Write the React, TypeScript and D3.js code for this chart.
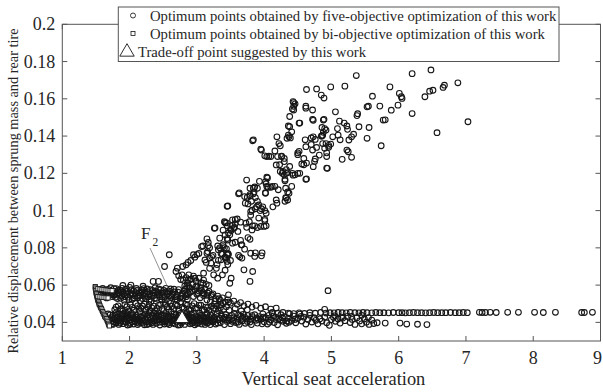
import React from "react";
import * as d3 from "d3";

type P = [number, number];

const xTicks = [1, 2, 3, 4, 5, 6, 7, 8, 9];
const yTicks = [0.04, 0.06, 0.08, 0.1, 0.12, 0.14, 0.16, 0.18, 0.2];
const xLabel = "Vertical seat acceleration";
const yLabel = "Relative displacement between sprung mass and rear tire";
const legendLabels = [
  "Optimum points obtained by five-objective optimization of this work",
  "Optimum points obtained by bi-objective optimization of this work",
  "Trade-off point suggested by this work",
];

// five-objective optimum points: rising upper branch
const upperBranch: P[] = [
  [3.83,0.1375],[6.48,0.1755],[6.20,0.1735],[5.37,0.1725],[5.87,0.1664],[6.01,0.1629],[6.04,0.1611],[6.05,0.1602],[5.99,0.1566],[5.89,0.1539],[6.20,0.1521],[6.39,0.1611],[6.46,0.1641],[6.51,0.1646],[6.66,0.1661],[6.68,0.1673],[6.88,0.1686],[7.03,0.1477],[6.57,0.1418],[5.20,0.1668],[4.99,0.1664],[4.63,0.1650],[5.06,0.1530],[4.44,0.1580],[4.44,0.1560],[4.44,0.1540],[4.62,0.1560],[4.62,0.1550],[4.72,0.1540],[4.72,0.1490],[4.73,0.1485],[4.89,0.1490],[5.12,0.1480],[5.19,0.1470],[5.09,0.1440],[5.23,0.1454],[5.24,0.1436],[5.41,0.1450],[5.56,0.1446],[5.39,0.1520],[5.38,0.1510],[5.53,0.1557],[5.55,0.1560],[5.61,0.1614],[5.72,0.1561],[5.77,0.1486],[5.80,0.1487],[5.74,0.1348],[5.53,0.1388],[5.30,0.1396],[5.33,0.1410],[5.26,0.1379],[5.23,0.1325],[5.25,0.1316],[5.30,0.1286],[5.16,0.1275],[5.13,0.1380],[5.10,0.1405],[5.02,0.1396],[4.96,0.1350],[4.96,0.1340],[4.99,0.1357],[4.90,0.1334],[4.92,0.1360],[4.86,0.1400],[4.87,0.1405],[4.86,0.1446],[4.92,0.1432],[4.88,0.1486],[4.73,0.1396],[4.76,0.1382],[4.82,0.1298],[4.78,0.1339],[4.72,0.1325],[4.76,0.1277],[4.73,0.1236],[4.94,0.1227],[4.59,0.1280],[4.56,0.1250],[4.50,0.1200],[4.43,0.1190],[4.62,0.1343],[4.61,0.1380],[4.52,0.1470],[4.38,0.1450],[4.36,0.1405],[4.39,0.1390],[4.41,0.1423],[4.19,0.1396],[4.22,0.1360],[4.24,0.1348],[4.34,0.1388],[4.20,0.1290],[4.26,0.1292],[4.30,0.1280],[4.10,0.1290],[4.07,0.1292],[4.04,0.1290],[3.96,0.1325],[4.18,0.1245],[4.24,0.1210],[4.27,0.1200],[4.33,0.1200],[4.35,0.1204],[4.31,0.1160],[4.31,0.1168],[4.53,0.1200],[4.62,0.1168],[4.32,0.1120],[4.37,0.1093],[4.35,0.1057],[4.18,0.1057],[4.02,0.1093],[4.04,0.1130],[4.12,0.1130],[3.90,0.1120],[3.84,0.1120],[3.85,0.1100],[3.79,0.1120],[3.74,0.1164],[4.04,0.1180],[4.02,0.1155],[3.62,0.1090],[3.71,0.1075],[3.75,0.1072],[3.79,0.1078],
  [4.78,0.1653],[4.85,0.1620],[4.89,0.1604],[4.43,0.1585],[4.46,0.1573],[4.42,0.1546],[4.38,0.1505],[4.53,0.1470],[4.36,0.1454],[4.37,0.1396],[3.84,0.1380],[3.95,0.1330],[4.16,0.1320],[4.50,0.1310],[4.70,0.1355],[4.85,0.1400],[4.88,0.1420],[4.90,0.1440],[4.70,0.1390],[4.87,0.1360],[4.93,0.1310],
  [4.01,0.1294],[4.26,0.1290],[4.50,0.1300],[4.52,0.1318],[4.63,0.1255],[4.59,0.1246],[4.75,0.1264],[4.93,0.1290],[4.93,0.1228],[4.23,0.1246],[4.33,0.1220],[4.28,0.1210],[4.30,0.1192],[4.38,0.1237],[4.42,0.1200],[4.46,0.1192],[4.41,0.1130],[4.35,0.1100],[4.33,0.1067],[4.30,0.1263],[4.63,0.1170],[4.05,0.1175],[4.03,0.1144],[4.06,0.1125],[4.10,0.1125],[4.16,0.1130],[4.21,0.1112],[4.32,0.1070],[3.93,0.1157],[3.86,0.1127],[3.63,0.1095],[3.79,0.1086],[3.81,0.1050],[4.02,0.1096],[3.72,0.1040],[3.84,0.1090],[3.87,0.1070],[3.90,0.1050],[3.92,0.1030],[3.96,0.1010],[3.94,0.1000],[3.87,0.1010],[3.82,0.1002],[3.80,0.0975],[4.01,0.0953],[3.95,0.0915],[4.00,0.0915],[4.03,0.0918],[3.83,0.0918],[3.90,0.0909],[3.73,0.0932],
];

// five-objective: lower part of the branch (x 2.4 - 4.3, y 0.055 - 0.105)
const branchBase: P[] = [
  [3.45,0.1023],[3.27,0.0907],[3.44,0.0934],[3.41,0.0940],[3.53,0.0950],[3.57,0.0952],[3.60,0.0955],[3.53,0.0920],[3.56,0.0910],[3.50,0.0900],[3.51,0.0893],[3.47,0.0880],[3.49,0.0870],[3.39,0.0895],[3.34,0.0852],[3.31,0.0810],[3.34,0.0800],[3.15,0.0848],[3.09,0.0810],[3.17,0.0812],[3.19,0.0800],[3.39,0.0817],[3.41,0.0800],[3.44,0.0795],[3.46,0.0770],[3.47,0.0765],[3.36,0.0770],[3.38,0.0766],[3.42,0.0750],[3.44,0.0745],[3.24,0.0760],[3.22,0.0753],[3.16,0.0780],[3.03,0.0770],[3.00,0.0764],[2.97,0.0750],[3.32,0.0733],[3.62,0.0760],[3.64,0.0752],[3.67,0.0745],[3.67,0.0816],[3.87,0.0773],[3.97,0.0773],[3.12,0.0735],[3.14,0.0722],[2.87,0.0722],
  [3.46,0.1025],[3.76,0.1036],[3.80,0.0995],[3.98,0.1020],[4.01,0.1000],[3.89,0.1020],[4.03,0.0986],[4.13,0.1020],[4.19,0.1040],[4.31,0.1050],[3.92,0.0960],[4.01,0.0946],[3.86,0.0918],[3.82,0.0896],[3.74,0.0910],[3.78,0.0940],[3.65,0.0938],[3.57,0.0930],[3.55,0.0905],[3.45,0.0918],[3.42,0.0935],[3.26,0.0905],[3.42,0.0870],[3.45,0.0850],[3.46,0.0842],[3.53,0.0825],[3.57,0.0830],[3.65,0.0840],[3.66,0.0816],[3.76,0.0855],[3.79,0.0846],[3.61,0.0888],[3.71,0.0793],[3.80,0.0771],[3.86,0.0754],[3.96,0.0757],[3.70,0.0682],[3.83,0.0673],[3.79,0.0620],[3.51,0.0637],[3.49,0.0610],[3.47,0.0548],[3.45,0.0763],[3.42,0.0745],[3.45,0.0727],[3.50,0.0732],[3.46,0.0710],[3.36,0.0736],[3.39,0.0807],[3.32,0.0790],[3.30,0.0710],[3.29,0.0690],[3.42,0.0680],[3.38,0.0655],[3.31,0.0637],[3.21,0.0718],[3.19,0.0745],[3.15,0.0771],[3.17,0.0829],[3.07,0.0807],[3.19,0.0690],[3.10,0.0664],[3.25,0.0655],[2.95,0.0763],[2.91,0.0732],[2.97,0.0637],[2.90,0.0630],[3.09,0.0610],[2.78,0.0655],[2.71,0.0691],[2.69,0.0673],[2.79,0.0700],[2.59,0.0763],[2.52,0.0700],[2.43,0.0620],[2.84,0.0709],[2.87,0.0628],[2.73,0.0650],[2.76,0.0630],[2.85,0.0593],
];

// five-objective: junction of branch and bands
const junction: P[] = [
  [2.82,0.0595],[2.86,0.0612],[2.90,0.0583],[2.94,0.0604],[2.97,0.0576],[3.00,0.0596],[3.03,0.0568],[3.06,0.0587],[3.09,0.0559],[3.12,0.0578],[3.15,0.0545],[3.18,0.0566],[3.21,0.0538],[3.24,0.0553],[3.28,0.0527],[3.31,0.0541],[3.35,0.0518],[3.38,0.0532],[3.42,0.0509],[3.46,0.0521],[3.50,0.0503],[3.55,0.0514],[3.60,0.0497],[3.65,0.0506],[3.70,0.0489],[3.76,0.0498],[3.82,0.0482],[3.88,0.0491],[3.95,0.0476],[4.02,0.0484],[4.10,0.0471],[4.18,0.0477],
  [2.85,0.0548],[2.90,0.0562],[2.95,0.0539],[3.00,0.0551],[3.05,0.0532],[3.10,0.0544],[3.15,0.0521],[3.20,0.0509],[3.26,0.0498],[3.30,0.0488],[3.36,0.0495],[3.44,0.0484],[2.80,0.0626],[2.84,0.0640],[2.88,0.0655],[2.92,0.0633],[2.95,0.0648],[2.99,0.0621],[3.03,0.0637],[3.06,0.0612],[3.10,0.0627],[3.14,0.0604],[3.18,0.0598],
  [2.83,0.0578],[2.88,0.0592],[2.93,0.0571],[2.98,0.0589],[3.02,0.0556],[3.07,0.0571],[3.11,0.0553],[3.16,0.0558],[3.22,0.0547],[3.27,0.0513],[3.33,0.0527],[3.39,0.0503],[3.47,0.0509],
];

// five-objective: upper dense band (y 0.051 - 0.059)
const upperBand: P[] = [
  [1.56,0.0574],[1.58,0.0556],[1.60,0.0582],[1.62,0.0543],[1.64,0.0565],[1.66,0.0531],[1.68,0.0577],[1.70,0.0552],[1.72,0.0586],[1.74,0.0539],[1.76,0.0568],[1.78,0.0547],[1.80,0.0581],[1.82,0.0528],[1.84,0.0559],[1.86,0.0573],[1.88,0.0541],[1.90,0.0562],[1.92,0.0519],[1.94,0.0578],[1.96,0.0549],[1.98,0.0535],[2.00,0.0588],[2.02,0.0556],[2.04,0.0524],[2.06,0.0569],[2.08,0.0542],[2.10,0.0582],[2.12,0.0531],[2.14,0.0558],[2.16,0.0516],[2.18,0.0574],[2.20,0.0546],[2.22,0.0562],[2.24,0.0527],[2.26,0.0579],[2.28,0.0538],[2.30,0.0553],[2.32,0.0512],[2.34,0.0571],[2.36,0.0544],[2.38,0.0586],[2.40,0.0529],[2.42,0.0561],[2.44,0.0548],[2.46,0.0575],[2.48,0.0521],[2.50,0.0557],[2.52,0.0539],[2.54,0.0583],[2.56,0.0551],[2.58,0.0514],[2.60,0.0567],[2.62,0.0533],[2.64,0.0554],[2.66,0.0578],[2.68,0.0526],[2.70,0.0545],[2.72,0.0562],[2.75,0.0531],[2.78,0.0551],[2.81,0.0569],[2.84,0.0538],[2.87,0.0556],
  [1.65,0.0552],[1.75,0.0556],[1.85,0.0549],[1.95,0.0557],[2.05,0.0551],[2.15,0.0546],[2.25,0.0553],[2.35,0.0559],[2.45,0.0539],[2.55,0.0566],[2.02,0.0600],[1.90,0.0598],[2.20,0.0594],[2.35,0.0620],
  [1.57,0.0548],[1.61,0.0561],[1.63,0.0574],[1.67,0.0546],[1.69,0.0561],[1.73,0.0549],[1.77,0.0581],[1.79,0.0535],[1.81,0.0554],[1.83,0.0571],[1.87,0.0529],[1.89,0.0583],[1.91,0.0552],[1.93,0.0538],[1.97,0.0568],[1.99,0.0521],[2.01,0.0545],[2.03,0.0576],[2.07,0.0531],[2.09,0.0559],[2.11,0.0571],[2.13,0.0541],[2.17,0.0562],[2.19,0.0528],[2.21,0.0581],[2.23,0.0541],[2.27,0.0564],[2.29,0.0519],[2.31,0.0576],[2.33,0.0543],[2.37,0.0528],[2.39,0.0566],[2.41,0.0547],[2.43,0.0579],[2.47,0.0558],[2.49,0.0536],[2.51,0.0572],[2.53,0.0521],[2.57,0.0563],[2.59,0.0541],[2.61,0.0579],[2.63,0.0546],[2.67,0.0563],[2.69,0.0538],[2.71,0.0521],[2.73,0.0576],[2.77,0.0541],[2.79,0.0529],[2.83,0.0558],[2.86,0.0524],
];

// five-objective: between the two bands (y 0.045 - 0.051)
const middleBand: P[] = [
  [1.78,0.0468],[1.83,0.0489],[1.88,0.0473],[1.93,0.0495],[1.99,0.0462],[2.04,0.0481],[2.09,0.0502],[2.14,0.0471],[2.19,0.0488],[2.24,0.0465],[2.29,0.0497],[2.33,0.0478],[2.38,0.0463],[2.43,0.0491],[2.48,0.0474],[2.53,0.0501],[2.58,0.0469],[2.63,0.0486],[2.68,0.0494],[2.73,0.0468],[2.78,0.0482],[2.83,0.0497],[2.88,0.0471],[2.93,0.0489],[2.98,0.0476],[3.03,0.0493],[3.08,0.0468],[3.13,0.0482],[3.18,0.0464],[3.25,0.0476],[3.32,0.0462],[3.40,0.0471],[3.48,0.0465],[3.57,0.0474],[3.66,0.0461],[3.75,0.0468],[1.71,0.0440],[1.86,0.0470],[1.64,0.0432],[1.68,0.0445],
  [1.80,0.0482],[1.90,0.0461],[1.96,0.0484],[2.01,0.0497],[2.06,0.0465],[2.12,0.0489],[2.17,0.0476],[2.22,0.0498],[2.27,0.0481],[2.31,0.0463],[2.36,0.0487],[2.41,0.0475],[2.46,0.0496],[2.51,0.0463],[2.56,0.0484],[2.61,0.0502],[2.66,0.0473],[2.71,0.0489],[2.76,0.0508],[2.81,0.0476],[2.86,0.0492],[2.91,0.0465],[2.96,0.0501],[3.01,0.0478],[3.06,0.0492],[3.11,0.0467],[3.16,0.0479],[3.22,0.0487],[3.28,0.0472],[3.35,0.0479],
];

// five-objective: lower dense band (y 0.038 - 0.046)
const lowerBand: P[] = [
  [1.72,0.0405],[1.74,0.0392],[1.75,0.0438],[1.78,0.0415],[1.80,0.0398],[1.82,0.0427],[1.84,0.0389],[1.85,0.0446],[1.87,0.0408],[1.89,0.0431],[1.90,0.0393],[1.92,0.0418],[1.94,0.0452],[1.95,0.0401],[1.97,0.0386],[1.98,0.0437],[2.00,0.0412],[2.01,0.0395],[2.03,0.0448],[2.05,0.0425],[2.06,0.0391],[2.08,0.0406],[2.10,0.0439],[2.12,0.0388],[2.13,0.0417],[2.15,0.0457],[2.17,0.0399],[2.18,0.0432],[2.20,0.0411],[2.22,0.0387],[2.23,0.0445],[2.25,0.0403],[2.27,0.0424],[2.29,0.0392],[2.30,0.0459],[2.32,0.0414],[2.34,0.0436],[2.35,0.0389],[2.37,0.0407],[2.39,0.0428],[2.40,0.0395],[2.42,0.0451],[2.44,0.0416],[2.45,0.0386],[2.47,0.0439],[2.49,0.0402],[2.50,0.0423],[2.52,0.0391],[2.54,0.0447],[2.55,0.0409],[2.57,0.0433],[2.59,0.0388],[2.60,0.0418],[2.62,0.0455],[2.64,0.0398],[2.65,0.0427],[2.67,0.0392],[2.69,0.0441],[2.70,0.0405],[2.72,0.0386],[2.74,0.0421],[2.75,0.0448],[2.77,0.0396],[2.79,0.0412],[2.80,0.0437],[2.82,0.0389],[2.84,0.0428],[2.85,0.0453],[2.87,0.0401],[2.89,0.0417],[2.90,0.0392],[2.92,0.0443],[2.94,0.0408],[2.95,0.0426],[2.97,0.0387],[2.99,0.0435],[3.00,0.0413],[3.02,0.0397],[3.04,0.0449],[3.05,0.0421],[3.07,0.0391],[3.09,0.0431],[3.10,0.0406],[3.12,0.0389],[3.14,0.0424],[3.15,0.0444],[3.17,0.0399],[3.19,0.0415],[3.20,0.0388],[3.22,0.0436],
  [1.76,0.0421],[1.81,0.0443],[1.86,0.0396],[1.91,0.0438],[1.96,0.0422],[2.02,0.0431],[2.07,0.0419],[2.11,0.0401],[2.16,0.0428],[2.21,0.0436],[2.26,0.0388],[2.31,0.0426],[2.36,0.0449],[2.41,0.0412],[2.46,0.0427],[2.51,0.0438],[2.56,0.0393],[2.61,0.0434],[2.66,0.0445],[2.71,0.0424],[2.76,0.0409],[2.81,0.0422],[2.86,0.0413],[2.91,0.0429],[2.96,0.0401],[3.01,0.0427],[3.06,0.0406],[3.11,0.0421],[3.16,0.0409],[3.21,0.0419],
  [1.73,0.0426],[1.77,0.0401],[1.79,0.0437],[1.83,0.0409],[1.88,0.0421],[1.93,0.0405],[1.97,0.0446],[1.99,0.0423],[2.04,0.0403],[2.09,0.0428],[2.14,0.0395],[2.19,0.0421],[2.24,0.0414],[2.28,0.0441],[2.33,0.0398],[2.38,0.0419],[2.43,0.0433],[2.48,0.0415],[2.53,0.0404],[2.58,0.0425],[2.63,0.0409],[2.68,0.0416],[2.73,0.0435],[2.78,0.0402],[2.83,0.0441],[2.88,0.0425],[2.93,0.0396],[2.98,0.0418],[3.03,0.0409],[3.08,0.0438],[3.13,0.0403],[3.18,0.0428],[3.23,0.0409],
  [1.75,0.0389],[1.80,0.0451],[1.85,0.0418],[1.90,0.0446],[1.95,0.0429],[2.00,0.0388],[2.05,0.0441],[2.10,0.0418],[2.15,0.0407],[2.20,0.0396],[2.25,0.0432],[2.30,0.0401],[2.35,0.0425],[2.40,0.0443],[2.45,0.0401],[2.50,0.0411],[2.55,0.0428],[2.60,0.0399],[2.65,0.0412],[2.70,0.0431],[2.75,0.0387],[2.80,0.0419],[2.85,0.0432],[2.90,0.0408],[2.95,0.0449],[3.00,0.0394],[3.05,0.0437],[3.10,0.0426],[3.15,0.0397],[3.20,0.0441],
  [3.24,0.0402],[3.26,0.0428],[3.28,0.0391],[3.30,0.0447],[3.32,0.0414],[3.35,0.0398],[3.37,0.0433],[3.39,0.0419],[3.41,0.0388],[3.43,0.0441],[3.45,0.0405],[3.47,0.0425],[3.50,0.0393],[3.52,0.0437],[3.54,0.0412],[3.56,0.0448],[3.58,0.0399],[3.60,0.0421],[3.63,0.0389],[3.65,0.0432],[3.67,0.0408],[3.69,0.0443],[3.72,0.0395],[3.74,0.0418],[3.76,0.0436],[3.79,0.0402],[3.81,0.0388],[3.83,0.0426],[3.86,0.0441],[3.88,0.0411],[3.90,0.0396],[3.93,0.0431],[3.95,0.0417],[3.98,0.0446],[4.00,0.0403],[4.02,0.0425],[4.05,0.0391],[4.07,0.0438],[4.10,0.0413],[4.12,0.0452],[4.15,0.0399],[4.17,0.0428],[4.20,0.0387],[4.22,0.0419],[4.25,0.0441],[4.28,0.0406],[4.30,0.0431],[4.33,0.0395],[4.36,0.0423],[4.38,0.0446],[4.41,0.0410],[4.44,0.0434],[4.47,0.0398],[4.50,0.0421],[4.53,0.0444],[4.56,0.0407],[4.59,0.0428],[4.62,0.0391],[4.65,0.0416],[4.68,0.0438],
  [3.27,0.0413],[3.34,0.0422],[3.44,0.0416],[3.53,0.0405],[3.62,0.0441],[3.71,0.0428],[3.80,0.0417],[3.89,0.0424],[3.97,0.0392],[4.06,0.0421],[4.14,0.0434],[4.24,0.0412],[4.34,0.0407],
  [3.25,0.0421],[3.31,0.0397],[3.36,0.0441],[3.42,0.0428],[3.48,0.0411],[3.55,0.0426],[3.61,0.0401],[3.68,0.0422],[3.75,0.0405],[3.82,0.0436],[3.91,0.0417],[3.99,0.0428],[4.08,0.0401],[4.18,0.0416],[4.27,0.0425],[4.37,0.0401],[4.46,0.0416],[4.55,0.0432],
  [4.71,0.0402],[4.74,0.0425],[4.77,0.0411],[4.80,0.0392],[4.83,0.0419],[4.86,0.0407],[4.90,0.0428],[4.93,0.0398],[4.97,0.0384],[5.00,0.0415],[5.03,0.0427],[5.06,0.0406],[5.10,0.0418],[5.13,0.0396],[5.17,0.0423],[5.20,0.0409],[5.24,0.0432],[5.28,0.0399],[5.31,0.0416],[5.35,0.0389],[5.38,0.0425],[5.42,0.0408],[5.45,0.0392],[5.49,0.0418],[5.52,0.0401],[5.56,0.0389],[5.60,0.0412],[5.63,0.0394],[5.68,0.0398],[5.80,0.0396],[6.02,0.0396],[6.12,0.0391],[6.28,0.0390],[6.42,0.0388],
  [5.05,0.0435],[5.15,0.0428],[5.30,0.0432],[5.45,0.0438],[5.55,0.0426],[4.90,0.0470],[4.95,0.0570],
];

// five-objective: horizontal tail at y ~ 0.045
const tailPoints: P[] = [
  [4.12,0.0452],[4.20,0.0449],[4.28,0.0453],[4.36,0.0450],[4.44,0.0447],[4.52,0.0451],[4.60,0.0448],[4.68,0.0452],[4.76,0.0449],[4.84,0.0453],[4.92,0.0450],
  [4.98,0.0452],[5.04,0.0451],[5.10,0.0453],[5.16,0.0452],[5.22,0.0451],[5.28,0.0453],[5.35,0.0452],[5.41,0.0451],[5.47,0.0453],[5.53,0.0452],[5.60,0.0451],[5.66,0.0453],[5.72,0.0452],[5.78,0.0452],[5.85,0.0451],[5.92,0.0453],
  [6.00,0.0452],[6.05,0.0452],[6.10,0.0451],[6.16,0.0452],[6.22,0.0453],[6.28,0.0452],[6.34,0.0452],[6.40,0.0451],[6.46,0.0452],[6.52,0.0453],[6.58,0.0452],[6.64,0.0452],[6.70,0.0452],[6.77,0.0453],[6.84,0.0452],[6.90,0.0452],[6.96,0.0453],[7.02,0.0452],
  [7.20,0.0454],[7.24,0.0453],[7.29,0.0453],[7.36,0.0454],[7.45,0.0453],[7.62,0.0454],[7.78,0.0454],[8.02,0.0454],[8.15,0.0453],[8.33,0.0454],[8.72,0.0453],[8.76,0.0453],[8.88,0.0454],
];

// bi-objective optimum points
const biObjPoints: P[] = [
  [1.49,0.0592],[1.49,0.0585],[1.495,0.0578],[1.50,0.0570],[1.50,0.0562],[1.505,0.0555],[1.51,0.0547],[1.515,0.0540],[1.52,0.0532],[1.525,0.0524],[1.53,0.0517],[1.54,0.0510],[1.545,0.0503],[1.55,0.0496],[1.56,0.0489],[1.57,0.0481],[1.58,0.0474],[1.59,0.0466],[1.60,0.0458],[1.61,0.0450],[1.62,0.0443],[1.63,0.0435],[1.64,0.0428],[1.655,0.0420],[1.665,0.0412],[1.675,0.0403],[1.685,0.0395],[1.69,0.0387],[1.70,0.0381],
  [1.53,0.0581],[1.56,0.0579],[1.59,0.0577],[1.62,0.0576],[1.65,0.0574],[1.68,0.0573],[1.71,0.0571],[1.74,0.0570],
  [1.53,0.0538],[1.56,0.0537],[1.59,0.0535],[1.62,0.0534],[1.65,0.0532],[1.68,0.0531],
];

const tradeOff: P = [2.78, 0.042];

const fiveObjPoints: P[] = [
  ...lowerBand, ...middleBand, ...upperBand, ...junction, ...branchBase, ...upperBranch, ...tailPoints,
];

const W = 603;
const H = 392;
const FONT = "'Liberation Serif', 'Times New Roman', serif";
const AXIS = "#555";
const TEXT = "#262626";
const MARK = "#161616";

export default function App() {
  const x = d3.scaleLinear().domain([1, 9]).range([62.3, 600.5]);
  const y = d3.scaleLinear().domain([0.03, 0.2]).range([341, 24.3]);
  const [x0, x1] = x.range();
  const [y0, y1] = y.range();
  const fmt = (v: number) => String(+v.toFixed(2));
  const tri = d3.symbol().type(d3.symbolTriangle).size(78)() as string;
  const triLeg = d3.symbol().type(d3.symbolTriangle).size(90)() as string;
  const tl = 5;

  return (
    <svg
      width={W}
      height={H}
      viewBox={`0 0 ${W} ${H}`}
      style={{ position: "absolute", left: 0, top: 0, display: "block", background: "#fff" }}
      fontFamily={FONT}
    >
      <rect x={0} y={0} width={W} height={H} fill="#fff" />
      <g fill="none" stroke={MARK} strokeWidth={1.1}>
        {fiveObjPoints.map((d, i) => (
          <circle key={"c" + i} cx={x(d[0])} cy={y(d[1])} r={2.85} />
        ))}
      </g>
      <g fill="#fff" stroke={MARK} strokeWidth={0.9}>
        {biObjPoints.map((d, i) => (
          <rect key={"s" + i} x={x(d[0]) - 2.1} y={y(d[1]) - 2.1} width={4.2} height={4.2} />
        ))}
      </g>
      <line x1={150} y1={248} x2={169} y2={290} stroke="#666" strokeWidth={0.7} />
      <text x={141} y={239} fontSize={17} fill={TEXT}>F</text>
      <text x={152.5} y={246} fontSize={11.5} fill={TEXT}>2</text>
      <path
        d={tri}
        transform={`translate(${x(tradeOff[0])},${y(tradeOff[1])})`}
        fill="#fff"
        stroke={MARK}
        strokeWidth={0.9}
      />
      <g stroke={AXIS} strokeWidth={1} fill="none">
        <rect x={x0} y={y1} width={x1 - x0} height={y0 - y1} />
        {xTicks.map((t) => (
          <g key={"xt" + t}>
            <line x1={x(t)} x2={x(t)} y1={y0} y2={y0 - tl} />
            <line x1={x(t)} x2={x(t)} y1={y1} y2={y1 + tl} />
          </g>
        ))}
        {yTicks.map((t) => (
          <g key={"yt" + t}>
            <line x1={x0} x2={x0 + tl} y1={y(t)} y2={y(t)} />
            <line x1={x1} x2={x1 - tl} y1={y(t)} y2={y(t)} />
          </g>
        ))}
      </g>
      <g fill={TEXT} fontSize={18}>
        {xTicks.map((t) => (
          <text key={"xl" + t} x={Math.min(x(t), W - 5.5)} y={y0 + 23} textAnchor="middle">
            {t}
          </text>
        ))}
        {yTicks.map((t) => (
          <text key={"yl" + t} x={x0 - 7} y={y(t) + 6} textAnchor="end">
            {fmt(t)}
          </text>
        ))}
      </g>
      <text x={(x0 + x1) / 2 + 2} y={385} textAnchor="middle" fontSize={18.4} fill={TEXT}>
        {xLabel}
      </text>
      <text
        transform={`translate(18,191) rotate(-90)`}
        textAnchor="middle"
        fontSize={14.3}
        fill={TEXT}
      >
        {yLabel}
      </text>
      <rect x={118.3} y={7} width={440.7} height={54.5} fill="#fff" stroke={AXIS} strokeWidth={1} />
      <circle cx={133} cy={15.5} r={2.5} fill="none" stroke={MARK} strokeWidth={0.85} />
      <rect x={131} y={31.5} width={4} height={4} fill="#fff" stroke={MARK} strokeWidth={0.8} />
      <path d={triLeg} transform="translate(127,52)" fill="#fff" stroke={MARK} strokeWidth={0.9} />
      <g fill={TEXT} fontSize={14.7}>
        <text x={150} y={20.5}>{legendLabels[0]}</text>
        <text x={150} y={38.5}>{legendLabels[1]}</text>
        <text x={138} y={56.5}>{legendLabels[2]}</text>
      </g>
    </svg>
  );
}
